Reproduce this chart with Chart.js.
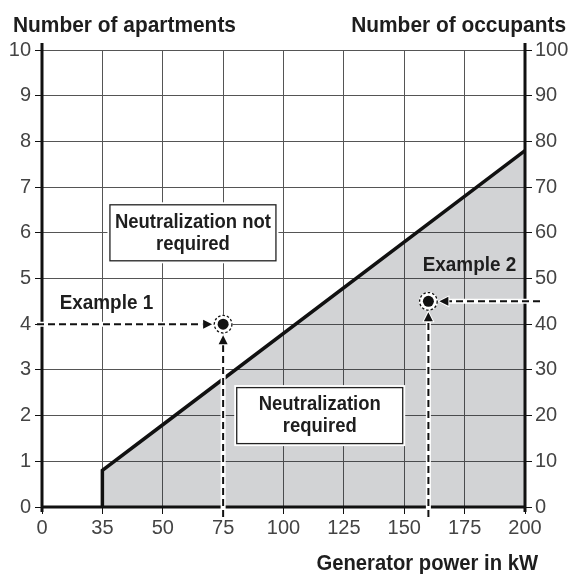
<!DOCTYPE html>
<html>
<head>
<meta charset="utf-8">
<script src="https://cdn.jsdelivr.net/npm/chart.js@4/dist/chart.umd.min.js"></script>
<style>
  html, body { margin: 0; padding: 0; background: #fff; }
  canvas { display: block; }
</style>
</head>
<body>
<canvas id="chart" width="572" height="574"></canvas>
<script>
// Axis ticks
const powerTicks = [0, 35, 50, 75, 100, 125, 150, 175, 200];          // kW
const apartmentTicks = [0, 1, 2, 3, 4, 5, 6, 7, 8, 9, 10];
const occupantTicks = [0, 10, 20, 30, 40, 50, 60, 70, 80, 90, 100];

// Boundary between "not required" and "required"
const boundaryPower = [35, 35, 50, 200];
const boundaryApartments = [0, 0.8, 1.8, 7.8];

// Worked examples
const exampleNames = ['Example 1', 'Example 2'];
const examplePower = [75, 160];
const exampleApartments = [4, 4.5];

// Region notes
const noteLines = [['Neutralization not', 'required'], ['Neutralization', 'required']];

// The power axis is drawn with evenly spaced ticks: 0–35 and 35–50 each take
// the width of one 25 kW step, the rest is linear.
function toPos(v) {
  if (v <= 35) return v * 25 / 35;
  if (v <= 50) return 25 + (v - 35) * 25 / 15;
  return v;
}
function fromPos(p) {
  if (p <= 25) return p * 35 / 25;
  if (p <= 50) return 35 + (p - 25) * 15 / 25;
  return p;
}

class PowerScale extends Chart.LinearScale {
  buildTicks() { return powerTicks.map(value => ({ value })); }
  getPixelForValue(value) {
    return super.getPixelForValue(value == null ? value : toPos(value));
  }
  getValueForPixel(pixel) { return fromPos(super.getValueForPixel(pixel)); }
}
PowerScale.id = 'power';
PowerScale.defaults = Chart.LinearScale.defaults;
Chart.register(PowerScale);

const FONT = '"Liberation Sans", Arial, Helvetica, sans-serif';
const INK = '#1e1e1e';

// Bold, slightly condensed caption text
function caption(ctx, text, x, y, align, size, squeeze) {
  ctx.save();
  ctx.translate(x, y);
  ctx.scale(squeeze, 1);
  ctx.font = 'bold ' + size + 'px ' + FONT;
  ctx.textAlign = align;
  ctx.fillStyle = INK;
  ctx.fillText(text, 0, 0);
  ctx.restore();
}

const overlay = {
  id: 'overlay',
  afterDraw(chart) {
    const { ctx, chartArea: a, scales: { x, y } } = chart;
    ctx.save();

    // heavy axis lines
    ctx.strokeStyle = '#111';
    ctx.lineWidth = 3;
    ctx.beginPath();
    ctx.moveTo(a.left, a.top - 7); ctx.lineTo(a.left, a.bottom + 5);
    ctx.moveTo(a.right, a.top - 7); ctx.lineTo(a.right, a.bottom + 5);
    ctx.moveTo(a.left - 1.5, a.bottom); ctx.lineTo(a.right + 1.5, a.bottom);
    ctx.stroke();

    // axis titles
    ctx.textBaseline = 'alphabetic';
    caption(ctx, 'Number of apartments', a.left - 29, a.top - 18, 'left', 22, 0.95);
    caption(ctx, 'Number of occupants', a.right + 41, a.top - 18, 'right', 22, 0.95);
    caption(ctx, 'Generator power in kW', a.right + 13, a.bottom + 63, 'right', 22, 0.92);

    // region notes
    const notes = [
      { at: [62.5, 6], lines: noteLines[0] },
      { at: [115, 2], lines: noteLines[1] }
    ];
    ctx.textBaseline = 'middle';
    notes.forEach(n => {
      const cx = x.getPixelForValue(n.at[0]);
      const cy = y.getPixelForValue(n.at[1]);
      const w = 166, h = 56;
      ctx.lineWidth = 5; ctx.strokeStyle = '#fff';
      ctx.strokeRect(cx - w / 2, cy - h / 2, w, h);
      ctx.fillStyle = '#fff';
      ctx.fillRect(cx - w / 2, cy - h / 2, w, h);
      ctx.lineWidth = 1.3; ctx.strokeStyle = '#222';
      ctx.strokeRect(cx - w / 2, cy - h / 2, w, h);
      caption(ctx, n.lines[0], cx, cy - 11, 'center', 21, 0.88);
      caption(ctx, n.lines[1], cx, cy + 11, 'center', 21, 0.88);
    });

    // example labels
    const labelAt = [[36, 4.45], [177, 5.3]];
    exampleNames.forEach((name, i) => {
      caption(ctx, name, x.getPixelForValue(labelAt[i][0]), y.getPixelForValue(labelAt[i][1]),
              'center', 21, 0.9);
    });

    // dashed leaders with arrowheads
    function leader(x0, y0, x1, y1) {
      const len = Math.hypot(x1 - x0, y1 - y0);
      const ux = (x1 - x0) / len, uy = (y1 - y0) / len;
      const gap = 11, head = 9, half = 4.5;
      const tx = x1 - ux * gap, ty = y1 - uy * gap;
      const bx = tx - ux * head, by = ty - uy * head;
      ctx.setLineDash([]);
      ctx.strokeStyle = '#fff'; ctx.lineWidth = 5;
      ctx.beginPath(); ctx.moveTo(x0, y0); ctx.lineTo(bx, by); ctx.stroke();
      ctx.strokeStyle = '#111'; ctx.lineWidth = 2;
      ctx.setLineDash([7, 4]);
      ctx.beginPath(); ctx.moveTo(x0, y0); ctx.lineTo(bx, by); ctx.stroke();
      ctx.setLineDash([]);
      ctx.beginPath();
      ctx.moveTo(tx, ty);
      ctx.lineTo(bx - uy * half, by + ux * half);
      ctx.lineTo(bx + uy * half, by - ux * half);
      ctx.closePath();
      ctx.lineWidth = 2; ctx.strokeStyle = '#fff'; ctx.stroke();
      ctx.fillStyle = '#111'; ctx.fill();
    }

    examplePower.forEach((p, i) => {
      const px = x.getPixelForValue(p);
      const py = y.getPixelForValue(exampleApartments[i]);
      const fromLeft = i === 0;
      leader(fromLeft ? a.left - 5 : a.right + 15, py, px, py);
      leader(px, a.bottom + 10, px, py);

      // marker: black dot inside a dashed ring
      ctx.setLineDash([]);
      ctx.fillStyle = '#fff';
      ctx.beginPath(); ctx.arc(px, py, 9.5, 0, Math.PI * 2); ctx.fill();
      ctx.setLineDash([2.5, 2]);
      ctx.strokeStyle = '#111'; ctx.lineWidth = 1.3;
      ctx.beginPath(); ctx.arc(px, py, 8.8, 0, Math.PI * 2); ctx.stroke();
      ctx.setLineDash([]);
      ctx.fillStyle = '#111';
      ctx.beginPath(); ctx.arc(px, py, 5.5, 0, Math.PI * 2); ctx.fill();
    });

    ctx.restore();
  }
};

const tickFont = { family: FONT, size: 20 };
const tickColor = '#444';
const gridColor = '#555';

new Chart(document.getElementById('chart'), {
  type: 'line',
  data: {
    datasets: [{
      data: boundaryPower.map((p, i) => ({ x: p, y: boundaryApartments[i] })),
      borderColor: '#111',
      borderWidth: 3.5,
      backgroundColor: 'rgba(30,35,45,0.2)',
      fill: 'origin',
      pointRadius: 0,
      tension: 0,
      borderJoinStyle: 'miter'
    }]
  },
  options: {
    responsive: false,
    animation: false,
    events: [],
    layout: { padding: { top: 50, left: 0, right: 0, bottom: 0 } },
    plugins: { legend: { display: false }, tooltip: { enabled: false } },
    scales: {
      x: {
        type: 'power',
        min: 0, max: 200,
        afterFit: s => { s.height = 67; },
        border: { display: false },
        grid: { color: gridColor, lineWidth: 1, tickLength: 7, tickColor: '#111' },
        ticks: { font: tickFont, color: tickColor, padding: 2, autoSkip: false, maxRotation: 0 }
      },
      y: {
        position: 'left',
        min: 0, max: 10,
        afterBuildTicks: s => { s.ticks = apartmentTicks.map(value => ({ value })); },
        afterFit: s => { s.width = 42; },
        border: { display: false },
        grid: { color: gridColor, lineWidth: 1, tickLength: 7, tickColor: '#111' },
        ticks: { font: tickFont, color: tickColor, padding: 4 }
      },
      y2: {
        position: 'right',
        min: 0, max: 100,
        afterBuildTicks: s => { s.ticks = occupantTicks.map(value => ({ value })); },
        afterFit: s => { s.width = 47; },
        border: { display: false },
        grid: { drawOnChartArea: false, tickLength: 7, tickColor: '#111', lineWidth: 1 },
        ticks: { font: tickFont, color: tickColor, padding: 3 }
      }
    }
  },
  plugins: [overlay]
});
</script>
</body>
</html>
